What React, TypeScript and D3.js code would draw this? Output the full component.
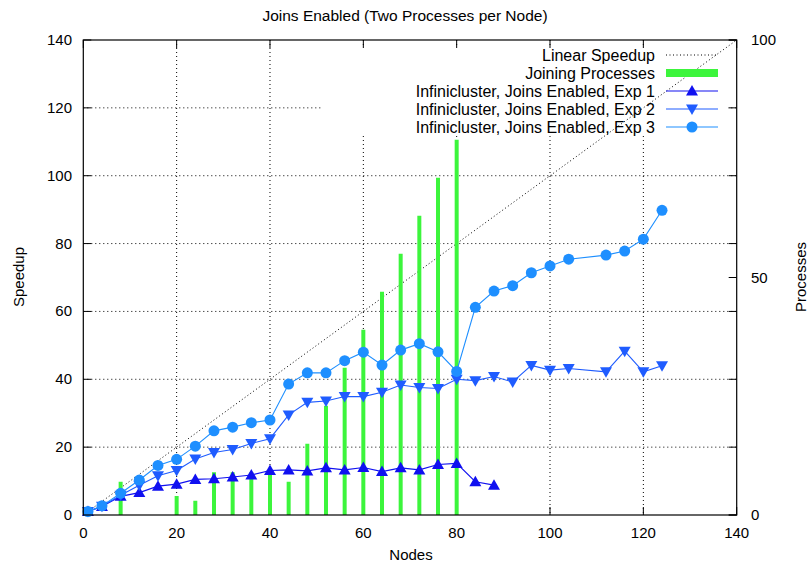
import React, {useRef, useEffect} from 'react';
import {select, scaleLinear, line} from 'd3';

// speedup data (x = nodes)
const nodesExp1 = [1, 4, 8, 12, 16, 20, 24, 28, 32, 36, 40, 44, 48, 52, 56, 60, 64, 68, 72, 76, 80, 84, 88];
const speedupExp1 = [1, 2.5, 5.5, 6.6, 8.5, 9.1, 10.5, 10.7, 11.2, 11.8, 13.1, 13.3, 13.0, 13.9, 13.3, 14.0, 12.8, 13.9, 13.3, 14.9, 15.2, 9.8, 8.8];

const nodesExp23 = [1, 4, 8, 12, 16, 20, 24, 28, 32, 36, 40, 44, 48, 52, 56, 60, 64, 68, 72, 76, 80, 84, 88, 92, 96, 100, 104, 112, 116, 120, 124];
const speedupExp2 = [1, 2.6, 5.8, 8.8, 11.6, 13.1, 16.5, 18.4, 19.3, 21.1, 22.5, 29.5, 33.2, 33.6, 34.9, 34.9, 36.2, 38.3, 37.6, 37.3, 40.0, 39.6, 40.8, 39.2, 44.1, 42.7, 43.2, 42.2, 48.3, 42.2, 44.0];
const speedupExp3 = [1, 2.7, 6.4, 10.3, 14.6, 16.4, 20.3, 24.8, 25.9, 27.2, 28.0, 38.6, 41.9, 41.9, 45.5, 48.0, 44.2, 48.6, 50.5, 48.1, 42.3, 61.2, 66.0, 67.6, 71.4, 73.4, 75.4, 76.6, 77.8, 81.3, 89.8];

// joining processes (right axis)
const joinNodes = [8, 20, 24, 28, 32, 36, 40, 44, 48, 52, 56, 60, 64, 68, 72, 76, 80];
const joinProcs = [7, 4, 3, 9, 9, 9, 9, 7, 15, 23, 31, 39, 47, 55, 63, 71, 79];

const xTicks = [0, 20, 40, 60, 80, 100, 120, 140];
const yTicks = [0, 20, 40, 60, 80, 100, 120, 140];
const y2Ticks = [0, 50, 100];

const legendLabels = [
  'Linear Speedup',
  'Joining Processes',
  'Infinicluster, Joins Enabled, Exp 1',
  'Infinicluster, Joins Enabled, Exp 2',
  'Infinicluster, Joins Enabled, Exp 3'
];

const FONT = '"Liberation Sans", Arial, sans-serif';
const GREEN = '#3cf53c';
const C1 = '#1010f0';
const C2 = '#1f5cff';
const C3 = '#1e8fff';

const App = () => {
  const svgRef = useRef();

  useEffect(() => {
    const svg = select(svgRef.current);
    svg.selectAll('*').remove();

    const left = 83.3, right = 736.7, top = 40, bottom = 515;
    const x = scaleLinear().domain([0, 140]).range([left, right]);
    const y = scaleLinear().domain([0, 140]).range([bottom, top]);
    const y2 = scaleLinear().domain([0, 100]).range([bottom, top]);

    svg.append('text')
      .attr('x', 405).attr('y', 21)
      .attr('text-anchor', 'middle')
      .attr('font-size', 15.5)
      .text('Joins Enabled (Two Processes per Node)');

    // grid
    const grid = svg.append('g').attr('stroke', '#000').attr('stroke-width', 1).attr('stroke-dasharray', '1,3');
    xTicks.slice(1, -1).forEach(t => {
      grid.append('line').attr('x1', x(t)).attr('x2', x(t)).attr('y1', top).attr('y2', bottom);
    });
    yTicks.slice(1, -1).forEach(t => {
      grid.append('line').attr('x1', left).attr('x2', right).attr('y1', y(t)).attr('y2', y(t));
    });
    // key area hides the grid
    svg.append('rect').attr('x', 321).attr('y', 45).attr('width', 407).attr('height', 90).attr('fill', '#fff');

    // ticks
    const ticks = svg.append('g').attr('stroke', '#000').attr('stroke-width', 1);
    xTicks.forEach(t => {
      ticks.append('line').attr('x1', x(t)).attr('x2', x(t)).attr('y1', bottom).attr('y2', bottom - 8);
      ticks.append('line').attr('x1', x(t)).attr('x2', x(t)).attr('y1', top).attr('y2', top + 8);
    });
    yTicks.forEach(t => {
      ticks.append('line').attr('x1', left).attr('x2', left + 8).attr('y1', y(t)).attr('y2', y(t));
      ticks.append('line').attr('x1', right).attr('x2', right - 8).attr('y1', y(t)).attr('y2', y(t));
    });
    y2Ticks.forEach(t => {
      ticks.append('line').attr('x1', right).attr('x2', right - 8).attr('y1', y2(t)).attr('y2', y2(t));
    });

    // tick labels
    const labels = svg.append('g').attr('font-size', 15);
    xTicks.forEach(t => {
      labels.append('text').attr('x', x(t)).attr('y', 538).attr('text-anchor', 'middle').text(t);
    });
    yTicks.forEach(t => {
      labels.append('text').attr('x', 72).attr('y', y(t) + 5).attr('text-anchor', 'end').text(t);
    });
    y2Ticks.forEach(t => {
      labels.append('text').attr('x', 751).attr('y', y2(t) + 5).attr('text-anchor', 'start').text(t);
    });

    labels.append('text').attr('x', 411).attr('y', 560).attr('text-anchor', 'middle').text('Nodes');
    labels.append('text').attr('transform', 'translate(24,277) rotate(-90)').attr('text-anchor', 'middle').text('Speedup');
    labels.append('text').attr('transform', 'translate(806,277) rotate(-90)').attr('text-anchor', 'middle').text('Processes');

    // linear speedup
    svg.append('line')
      .attr('x1', x(0)).attr('y1', y(0)).attr('x2', x(140)).attr('y2', y(140))
      .attr('stroke', '#000').attr('stroke-width', 1).attr('stroke-dasharray', '1,2.5');

    // joining processes impulses
    svg.append('g').selectAll('line')
      .data(joinNodes)
      .join('line')
      .attr('x1', d => x(d)).attr('x2', d => x(d))
      .attr('y1', y2(0))
      .attr('y2', (d, i) => y2(joinProcs[i]))
      .attr('stroke', GREEN).attr('stroke-width', 4);

    const mkLine = line().x(d => x(d[0])).y(d => y(d[1]));

    const triUp = (g, cx, cy, color) => {
      g.append('path').attr('d', `M${cx},${cy - 6}L${cx + 6},${cy + 4.5}L${cx - 6},${cy + 4.5}Z`).attr('fill', color);
    };
    const triDown = (g, cx, cy, color) => {
      g.append('path').attr('d', `M${cx},${cy + 6}L${cx + 6},${cy - 4.5}L${cx - 6},${cy - 4.5}Z`).attr('fill', color);
    };
    const circ = (g, cx, cy, color) => {
      g.append('circle').attr('cx', cx).attr('cy', cy).attr('r', 5.5).attr('fill', color);
    };

    const series = [
      {nodes: nodesExp1, vals: speedupExp1, color: C1, mark: triUp},
      {nodes: nodesExp23, vals: speedupExp2, color: C2, mark: triDown},
      {nodes: nodesExp23, vals: speedupExp3, color: C3, mark: circ}
    ];

    series.forEach(s => {
      const pts = s.nodes.map((n, i) => [n, s.vals[i]]);
      const g = svg.append('g');
      g.append('path').attr('d', mkLine(pts)).attr('fill', 'none').attr('stroke', s.color).attr('stroke-width', 1.1);
      pts.forEach(p => s.mark(g, x(p[0]), y(p[1]), s.color));
    });

    // key
    const key = svg.append('g').attr('font-size', 16);
    const rowY = [55, 73, 91, 109, 127];
    legendLabels.forEach((lab, i) => {
      key.append('text').attr('x', 655).attr('y', rowY[i] + 5.5).attr('text-anchor', 'end').text(lab);
    });
    key.append('line').attr('x1', 666).attr('x2', 718).attr('y1', rowY[0]).attr('y2', rowY[0])
      .attr('stroke', '#000').attr('stroke-dasharray', '1,2.5');
    key.append('rect').attr('x', 666).attr('y', rowY[1] - 4).attr('width', 52).attr('height', 8).attr('fill', GREEN);
    series.forEach((s, i) => {
      const yy = rowY[i + 2];
      key.append('line').attr('x1', 666).attr('x2', 718).attr('y1', yy).attr('y2', yy)
        .attr('stroke', s.color).attr('stroke-width', 1.1);
      s.mark(key, 692, yy, s.color);
    });

    // border
    svg.append('rect').attr('x', left).attr('y', top).attr('width', right - left).attr('height', bottom - top)
      .attr('fill', 'none').attr('stroke', '#000').attr('stroke-width', 1.2);
  }, []);

  return (
    <svg ref={svgRef} width={810} height={563}
      style={{position: 'absolute', left: 0, top: 0, background: '#fff', fontFamily: FONT}} />
  );
};

export default App;
